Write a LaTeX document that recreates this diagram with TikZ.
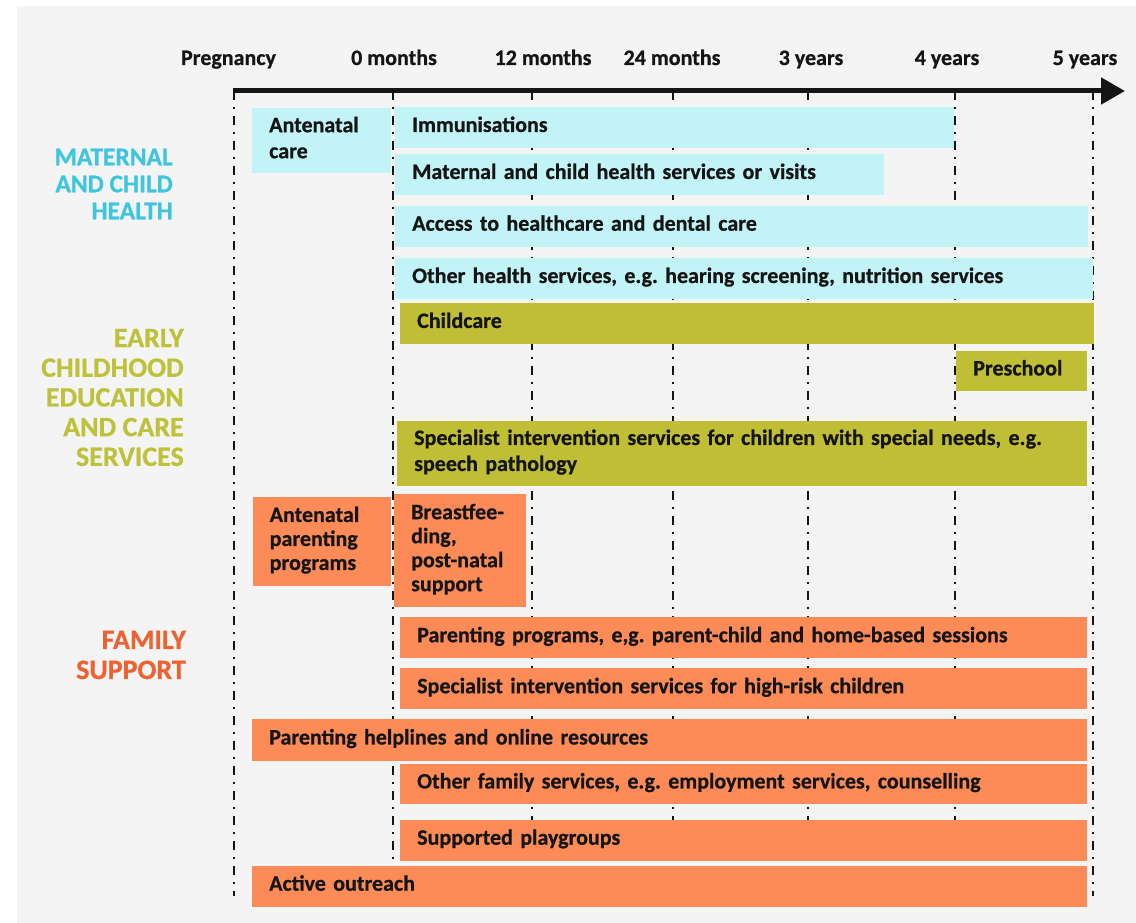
\documentclass[tikz,border=0pt]{standalone}
\usepackage{fontspec}
\setmainfont{Carlito}[BoldFeatures={FakeBold=0.7}]
\usetikzlibrary{arrows.meta}
\frenchspacing

\definecolor{paper}{HTML}{F4F4F4}
\definecolor{healthFill}{HTML}{C2F3F6}
\definecolor{careFill}{HTML}{BFBE35}
\definecolor{familyFill}{HTML}{FD8B58}
\definecolor{healthText}{HTML}{3FC5DE}
\definecolor{careText}{HTML}{BDC23A}
\definecolor{familyText}{HTML}{EE6232}
\definecolor{ink}{HTML}{151515}

% invisible strut that fixes the line box of service labels
\newcommand\svcstrut{\rule[-8pt]{0pt}{25pt}}

% service bar: name, colour, left, top, right, bottom, label
\newcommand\svcbox[7]{%
  \pgfmathsetmacro\boxw{#5-#3}%
  \pgfmathsetmacro\boxh{#6-#4}%
  \pgfmathsetmacro\textw{#5-#3-34}%
  \node[svc, fill=#2, minimum width=\boxw pt, minimum height=\boxh pt,
        text width=\textw pt] (#1) at (#3,#4) {\svcstrut#7\svcstrut};}

\tikzset{
  svc/.style={rectangle, anchor=north west, inner xsep=17pt, inner ysep=0pt,
    align=left, text=ink, font=\fontsize{22}{24}\selectfont\bfseries\frenchspacing},
  axlab/.style={anchor=base, inner sep=0pt, text=ink,
    font=\fontsize{22}{24}\selectfont\bfseries},
  cat/.style={anchor=east, inner sep=0pt, align=right},
  grid/.style={line width=2.2pt, ink, dash pattern=on 9pt off 7pt on 2pt off 7pt},
}

\begin{document}
\begin{tikzpicture}[x=1pt,y=-1pt]
% canvas
\fill[white] (0,0) rectangle (1136,923);
\useasboundingbox (0,0) rectangle (1136,923);
\fill[paper] (17,6) rectangle (1136,923);

% time marks along the axis
\foreach \n/\x in {P/234, M0/393, M12/532, M24/673, Y3/808, Y4/955, Y5/1093} {
  \coordinate (t\n) at (\x,91);
  \coordinate (b\n) at (\x,896);
}
\draw[grid] (tP) -- (bP);
\draw[grid] (tM0) -- (bM0);
\draw[grid] (tM12) -- (bM12);
\draw[grid] (tM24) -- (bM24);
\draw[grid] (tY3) -- (bY3);
\draw[grid] (tY4) -- (bY4);
\draw[grid] (tY5) -- (bY5);

% time axis
\coordinate (axL) at (233,91);
\coordinate (axR) at (1125,91);
\draw[line width=5pt, ink, -{Triangle[length=24pt, width=26pt]}] (axL) -- (axR);

% axis labels
\node[axlab] (lP)   at (228.5,65) {Pregnancy};
\node[axlab] (lM0)  at (394,65) {0 months};
\node[axlab] (lM12) at (543,65) {12 months};
\node[axlab] (lM24) at (672,65) {24 months};
\node[axlab] (lY3)  at (811,65) {3 years};
\node[axlab] (lY4)  at (947,65) {4 years};
\node[axlab] (lY5)  at (1085,65) {5 years};

% group headings
\node[cat, text=healthText, font=\fontsize{25.5}{27}\selectfont\bfseries] (gHealth) at (173,184)
  {MATERNAL\\AND CHILD\\HEALTH};
\node[cat, text=careText, font=\fontsize{28}{29.7}\selectfont\bfseries] (gCare) at (184,397.5)
  {EARLY\\CHILDHOOD\\EDUCATION\\AND CARE\\SERVICES};
\node[cat, text=familyText, font=\fontsize{28}{30}\selectfont\bfseries] (gFamily) at (186,655)
  {FAMILY\\SUPPORT};

% maternal and child health
\svcbox{antenatal}{healthFill}{252}{108}{391}{173}{Antenatal\\care}
\svcbox{immun}{healthFill}{395}{107}{954}{147.5}{Immunisations}
\svcbox{mchs}{healthFill}{395}{153.5}{884}{195}{Maternal and child health services or visits}
\svcbox{access}{healthFill}{395}{205.5}{1088}{246.5}{Access to healthcare and dental care}
\svcbox{otherh}{healthFill}{395}{257.5}{1093}{299}{Other health services, e.g. hearing screening, nutrition services}

% early childhood education and care
\svcbox{childcare}{careFill}{400}{302.5}{1093.5}{344}{Childcare}
\svcbox{preschool}{careFill}{956}{350.5}{1087}{391}{Preschool}
\svcbox{special}{careFill}{397}{420.5}{1087}{486}{Specialist intervention services for children with special needs, e.g.\\speech pathology}

% family support
\svcbox{antpar}{familyFill}{252.5}{496.5}{390.5}{586}{Antenatal\\parenting\\programs}
\svcbox{breast}{familyFill}{394}{494}{526}{607}{Breastfee-\\ding,\\post-natal\\support}
\svcbox{parprog}{familyFill}{400}{617}{1087}{658}{Parenting programs, e,g. parent-child and home-based sessions}
\svcbox{highrisk}{familyFill}{400}{668}{1087}{709}{Specialist intervention services for high-risk children}
\svcbox{helpline}{familyFill}{252}{719}{1087}{760.5}{Parenting helplines and online resources}
\svcbox{otherf}{familyFill}{400}{763.5}{1087}{804}{Other family services, e.g. employment services, counselling}
\svcbox{playgrp}{familyFill}{400}{819.5}{1087}{860.5}{Supported playgroups}
\svcbox{outreach}{familyFill}{252}{865.5}{1087}{906.5}{Active outreach}
\end{tikzpicture}
\end{document}
